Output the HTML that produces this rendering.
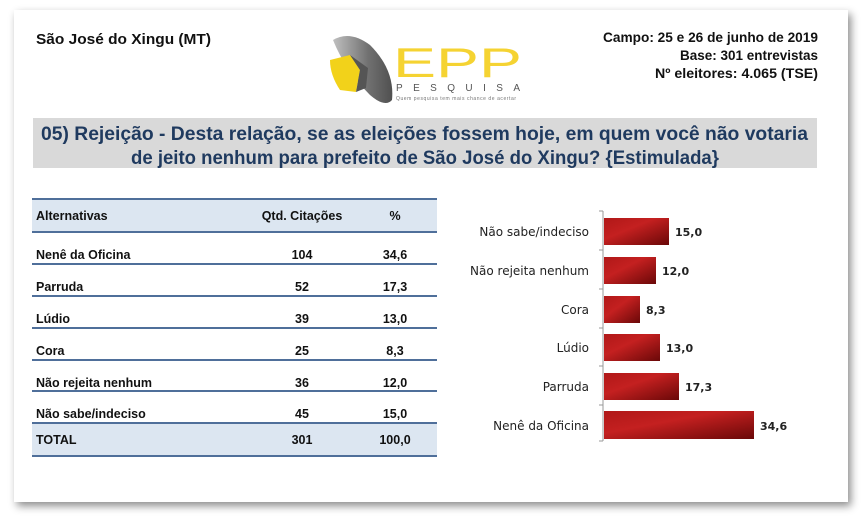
<!DOCTYPE html>
<html><head><meta charset="utf-8"><style>
body{margin:0;width:861px;height:519px;background:#fff;overflow:hidden;position:relative;font-family:"Liberation Sans",sans-serif}
.card{position:absolute;left:14px;top:10px;width:834px;height:492px;background:#fff;box-shadow:3px 4px 8px rgba(0,0,0,.45)}
</style></head><body>
<div class="card"></div>
<svg style="position:absolute;left:0;top:0" width="861" height="519">
<defs>
<linearGradient id="g" x1="0" y1="0" x2="1" y2="0"><stop offset="0" stop-color="#c0c0c0"/><stop offset=".6" stop-color="#707070"/><stop offset="1" stop-color="#505050"/></linearGradient>
<linearGradient id="r" x1="0" y1="0" x2="1" y2="1"><stop offset="0" stop-color="#b01818"/><stop offset=".4" stop-color="#c42020"/><stop offset="1" stop-color="#6a0808"/></linearGradient>
</defs>
<g font-family="Liberation Sans" font-weight="bold" fill="#111">
<text x="36" y="44" font-size="15" textLength="175" lengthAdjust="spacingAndGlyphs">São José do Xingu (MT)</text>
<text x="818" y="42" font-size="13.5" text-anchor="end" textLength="215" lengthAdjust="spacingAndGlyphs">Campo: 25 e 26 de junho de 2019</text>
<text x="818" y="60" font-size="13.5" text-anchor="end" textLength="138" lengthAdjust="spacingAndGlyphs">Base: 301 entrevistas</text>
<text x="818" y="78" font-size="13.5" text-anchor="end" textLength="163" lengthAdjust="spacingAndGlyphs">Nº eleitores: 4.065  (TSE)</text>
</g>
<path d="M333 40 Q350 30 370 45 Q395 70 392 100 Q385 108 370 95 Q345 70 333 40Z" fill="url(#g)"/>
<path d="M330 60 L350 55 L360 70 L356 92 L340 90 Q330 75 330 60Z" fill="#f2d21a"/>
<path d="M350 55 L360 70 L356 92 L366 88 L368 68 Z" fill="#555"/>
<text x="393" y="77" font-family="Liberation Sans" font-size="42" fill="#f5d332" textLength="129" lengthAdjust="spacingAndGlyphs">EPP</text>
<text x="396" y="91" font-family="Liberation Sans" font-size="10" fill="#555" textLength="124" lengthAdjust="spacing">PESQUISA</text>
<text x="396" y="100" font-family="Liberation Sans" font-size="5" fill="#777" textLength="120">Quem pesquisa tem mais chance de acertar</text>
<rect x="33" y="118" width="784" height="50" fill="#d9d9d9"/>
<text x="41" y="140" font-family="Liberation Sans" font-weight="bold" font-size="19.5" fill="#1f3a5f" textLength="767" lengthAdjust="spacingAndGlyphs">05) Rejeição - Desta relação, se as eleições fossem hoje, em quem você não votaria</text>
<text x="131" y="164" font-family="Liberation Sans" font-weight="bold" font-size="19.5" fill="#1f3a5f" textLength="588" lengthAdjust="spacingAndGlyphs">de jeito nenhum para prefeito de São José do Xingu? {Estimulada}</text>
<rect x="32" y="199" width="405" height="33" fill="#dce6f1"/>
<rect x="32" y="423" width="405" height="33" fill="#dce6f1"/>
<g stroke="#4f6f9a" stroke-width="2">
<line x1="32" x2="437" y1="199" y2="199"/><line x1="32" x2="437" y1="232" y2="232"/>
<line x1="32" x2="437" y1="264" y2="264"/><line x1="32" x2="437" y1="296" y2="296"/>
<line x1="32" x2="437" y1="328" y2="328"/><line x1="32" x2="437" y1="360" y2="360"/>
<line x1="32" x2="437" y1="391" y2="391"/><line x1="32" x2="437" y1="423" y2="423"/>
<line x1="32" x2="437" y1="456" y2="456"/></g>
<g font-family="Liberation Sans" font-weight="bold" font-size="12.5" fill="#111">
<text x="36" y="220">Alternativas</text><text x="302" y="220" text-anchor="middle">Qtd. Citações</text><text x="395" y="220" text-anchor="middle">%</text>
<text x="36" y="259">Nenê da Oficina</text><text x="302" y="259" text-anchor="middle">104</text><text x="395" y="259" text-anchor="middle">34,6</text>
<text x="36" y="291">Parruda</text><text x="302" y="291" text-anchor="middle">52</text><text x="395" y="291" text-anchor="middle">17,3</text>
<text x="36" y="323">Lúdio</text><text x="302" y="323" text-anchor="middle">39</text><text x="395" y="323" text-anchor="middle">13,0</text>
<text x="36" y="355">Cora</text><text x="302" y="355" text-anchor="middle">25</text><text x="395" y="355" text-anchor="middle">8,3</text>
<text x="36" y="387">Não rejeita nenhum</text><text x="302" y="387" text-anchor="middle">36</text><text x="395" y="387" text-anchor="middle">12,0</text>
<text x="36" y="418">Não sabe/indeciso</text><text x="302" y="418" text-anchor="middle">45</text><text x="395" y="418" text-anchor="middle">15,0</text>
<text x="36" y="444">TOTAL</text><text x="302" y="444" text-anchor="middle">301</text><text x="395" y="444" text-anchor="middle">100,0</text>
</g>
<line x1="603" y1="211" x2="603" y2="441" stroke="#999"/>
<g stroke="#999"><line x1="599" x2="603" y1="211" y2="211"/><line x1="599" x2="603" y1="250" y2="250"/><line x1="599" x2="603" y1="289" y2="289"/><line x1="599" x2="603" y1="328" y2="328"/><line x1="599" x2="603" y1="366" y2="366"/><line x1="599" x2="603" y1="405" y2="405"/><line x1="599" x2="603" y1="441" y2="441"/></g>
<g fill="url(#r)">
<rect x="604" y="218" width="65" height="27"/>
<rect x="604" y="257" width="52" height="27"/>
<rect x="604" y="296" width="36" height="27"/>
<rect x="604" y="334" width="56" height="27"/>
<rect x="604" y="373" width="75" height="27"/>
<rect x="604" y="411" width="150" height="28"/>
</g>
<g font-family="DejaVu Sans" font-size="12" fill="#222" text-anchor="end">
<text x="589" y="236">Não sabe/indeciso</text><text x="589" y="275">Não rejeita nenhum</text><text x="589" y="314">Cora</text><text x="589" y="352">Lúdio</text><text x="589" y="391">Parruda</text><text x="589" y="430">Nenê da Oficina</text>
</g>
<g font-family="DejaVu Sans" font-weight="bold" font-size="11" fill="#222">
<text x="675" y="236">15,0</text><text x="662" y="275">12,0</text><text x="646" y="314">8,3</text><text x="666" y="352">13,0</text><text x="685" y="391">17,3</text><text x="760" y="430">34,6</text>
</g>
</svg>
</body></html>
